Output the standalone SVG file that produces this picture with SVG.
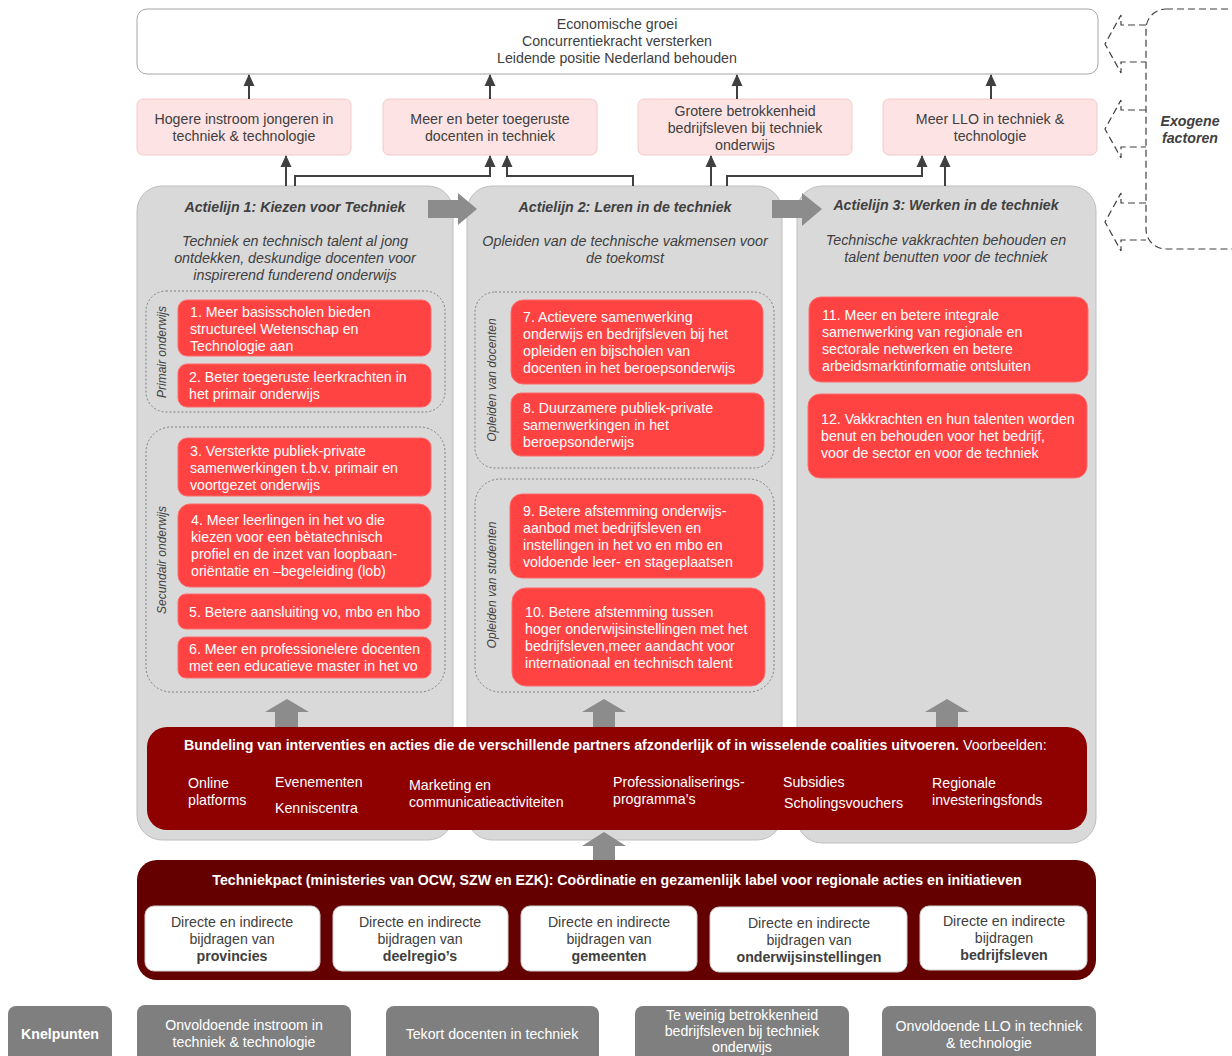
<svg xmlns="http://www.w3.org/2000/svg" width="1232" height="1056" viewBox="0 0 1232 1056">
<defs>
<style>
text{font-family:"Liberation Sans",Arial,sans-serif;}
.t{font-size:14.2px;fill:#404040;}
.c{text-anchor:middle;}
.w{font-size:14.2px;fill:#ffffff;}
.h{font-size:14.2px;font-weight:bold;font-style:italic;fill:#404040;text-anchor:middle;}
.s{font-size:14.3px;font-style:italic;fill:#404040;text-anchor:middle;}
.r{font-size:12px;font-style:italic;fill:#404040;text-anchor:middle;}
.pink{fill:#fde3e3;stroke:#f3caca;stroke-width:1;}
.al{fill:#d9d9d9;stroke:#bfbfbf;stroke-width:1;}
.red{fill:#ff4343;stroke:#ff6a6a;stroke-width:1;}
.grp{fill:none;stroke:#808080;stroke-width:1;stroke-dasharray:2 2;}
.wb{fill:#ffffff;stroke:#d0d0d0;stroke-width:1;}
.kn{fill:#7f7f7f;}
.con{fill:none;stroke:#404040;stroke-width:2;}
.ga{fill:#8c8c8c;}
.ex{fill:none;stroke:#404040;stroke-width:1.2;stroke-dasharray:7 4;}
</style>
<marker id="ah" markerWidth="12" markerHeight="12" refX="11" refY="6" orient="auto" markerUnits="userSpaceOnUse" viewBox="0 0 12 12">
<path d="M0,0.5 L12,6 L0,11.5 Z" fill="#404040"/>
</marker>
</defs>

<!-- Top goal box -->
<g id="goal">
<rect x="137" y="9" width="961" height="65" rx="10" fill="#ffffff" stroke="#a6a6a6"/>
<text class="t c" x="617" y="29">Economische groei</text>
<text class="t c" x="617" y="46">Concurrentiekracht versterken</text>
<text class="t c" x="617" y="63">Leidende positie Nederland behouden</text>
</g>

<!-- Exogene factoren -->
<g id="exogeen">
<rect class="ex" x="1146" y="9" width="110" height="240" rx="20"/>
<text x="1190" y="126" style="font-size:14.2px;font-weight:bold;font-style:italic;fill:#404040;text-anchor:middle">Exogene</text>
<text x="1190" y="143" style="font-size:14.2px;font-weight:bold;font-style:italic;fill:#404040;text-anchor:middle">factoren</text>
<path class="ex" d="M1146,25 H1121 V15 L1105,44 L1121,73 V62 H1146"/>
<path class="ex" d="M1146,110 H1121 V100 L1105,129 L1121,158 V147 H1146"/>
<path class="ex" d="M1146,203 H1121 V193 L1105,222 L1121,251 V240 H1146"/>
</g>

<!-- Pink outcome boxes -->
<g id="uitkomst1">
<rect class="pink" x="137" y="99" width="214" height="56" rx="6"/>
<text class="t c" x="244" y="124">Hogere instroom jongeren in</text>
<text class="t c" x="244" y="141">techniek &amp; technologie</text>
</g>
<g id="uitkomst2">
<rect class="pink" x="383" y="99" width="214" height="56" rx="6"/>
<text class="t c" x="490" y="124">Meer en beter toegeruste</text>
<text class="t c" x="490" y="141">docenten in techniek</text>
</g>
<g id="uitkomst3">
<rect class="pink" x="638" y="99" width="214" height="56" rx="6"/>
<text class="t c" x="745" y="116">Grotere betrokkenheid</text>
<text class="t c" x="745" y="133">bedrijfsleven bij techniek</text>
<text class="t c" x="745" y="150">onderwijs</text>
</g>
<g id="uitkomst4">
<rect class="pink" x="883" y="99" width="214" height="56" rx="6"/>
<text class="t c" x="990" y="124">Meer LLO in techniek &amp;</text>
<text class="t c" x="990" y="141">technologie</text>
</g>

<!-- Actielijn 1 -->
<g id="actielijn1">
<rect class="al" x="137" y="186" width="316" height="654" rx="25"/>
<text class="h" x="295" y="212">Actielijn  1: Kiezen voor Techniek</text>
<text class="s" x="295" y="246">Techniek en technisch talent al jong</text>
<text class="s" x="295" y="263">ontdekken, deskundige docenten voor</text>
<text class="s" x="295" y="280">inspirerend funderend onderwijs</text>
</g>
<!-- Actielijn 2 -->
<g id="actielijn2">
<rect class="al" x="467" y="186" width="315" height="654" rx="25"/>
<text class="h" x="625" y="212">Actielijn  2: Leren in de techniek</text>
<text class="s" x="625" y="246">Opleiden van de technische vakmensen voor</text>
<text class="s" x="625" y="263">de toekomst</text>
</g>
<!-- Actielijn 3 -->
<g id="actielijn3">
<rect class="al" x="797" y="186" width="299" height="657" rx="25"/>
<text class="h" x="946" y="210">Actielijn  3: Werken in de techniek</text>
<text class="s" x="946" y="245">Technische vakkrachten behouden en</text>
<text class="s" x="946" y="262">talent benutten voor de techniek</text>
</g>

<!-- Big gray arrows between actielijnen -->
<g id="pijlen-actielijn">
<path class="ga" d="M428,200 H458 V193 L477,209 L458,225 V218 H428 Z"/>
<path class="ga" d="M772,200 H802 V193 L822,209 L802,226 V218 H772 Z"/>
</g>

<!-- Groups -->
<g id="primair">
<rect class="grp" x="146" y="291" width="299" height="121" rx="20"/>
<text class="r" transform="translate(166,352) rotate(-90)">Primair onderwijs</text>
</g>
<g id="secundair">
<rect class="grp" x="146" y="427" width="299" height="265" rx="25"/>
<text class="r" transform="translate(166,560) rotate(-90)">Secundair onderwijs</text>
</g>
<g id="docenten">
<rect class="grp" x="475" y="292" width="299" height="176" rx="20"/>
<text class="r" transform="translate(496,380) rotate(-90)">Opleiden van docenten</text>
</g>
<g id="studenten">
<rect class="grp" x="475" y="479" width="299" height="213" rx="25"/>
<text class="r" transform="translate(496,585) rotate(-90)">Opleiden van studenten</text>
</g>

<!-- Red items -->
<g id="item1">
<rect class="red" x="178" y="300" width="253" height="56" rx="9"/>
<text class="w" x="190" y="317">1. Meer basisscholen bieden</text>
<text class="w" x="190" y="334">structureel Wetenschap en</text>
<text class="w" x="190" y="351">Technologie aan</text>
</g>
<g id="item2">
<rect class="red" x="178" y="364" width="253" height="43" rx="9"/>
<text class="w" x="189" y="382">2. Beter toegeruste leerkrachten in</text>
<text class="w" x="189" y="399">het primair onderwijs</text>
</g>
<g id="item3">
<rect class="red" x="178" y="438" width="253" height="58" rx="9"/>
<text class="w" x="190" y="456">3. Versterkte publiek-private</text>
<text class="w" x="190" y="473">samenwerkingen t.b.v. primair en</text>
<text class="w" x="190" y="490">voortgezet onderwijs</text>
</g>
<g id="item4">
<rect class="red" x="178" y="504" width="253" height="83" rx="12"/>
<text class="w" x="191" y="525">4. Meer leerlingen in het vo die</text>
<text class="w" x="191" y="542">kiezen voor een bètatechnisch</text>
<text class="w" x="191" y="559">profiel en de inzet van loopbaan-</text>
<text class="w" x="191" y="576">oriëntatie en –begeleiding (lob)</text>
</g>
<g id="item5">
<rect class="red" x="178" y="594" width="253" height="35" rx="8"/>
<text class="w" x="189" y="617">5. Betere aansluiting vo, mbo en hbo</text>
</g>
<g id="item6">
<rect class="red" x="178" y="637" width="253" height="41" rx="8"/>
<text class="w" x="189" y="654">6. Meer en professionelere docenten</text>
<text class="w" x="189" y="671">met een educatieve master in het vo</text>
</g>
<g id="item7">
<rect class="red" x="511" y="300" width="252" height="84" rx="12"/>
<text class="w" x="523" y="322">7. Actievere samenwerking</text>
<text class="w" x="523" y="339">onderwijs en bedrijfsleven bij het</text>
<text class="w" x="523" y="356">opleiden en bijscholen van</text>
<text class="w" x="523" y="373">docenten in het beroepsonderwijs</text>
</g>
<g id="item8">
<rect class="red" x="511" y="393" width="253" height="63" rx="10"/>
<text class="w" x="523" y="413">8. Duurzamere publiek-private</text>
<text class="w" x="523" y="430">samenwerkingen in het</text>
<text class="w" x="523" y="447">beroepsonderwijs</text>
</g>
<g id="item9">
<rect class="red" x="510" y="494" width="253" height="84" rx="12"/>
<text class="w" x="523" y="516">9. Betere afstemming onderwijs-</text>
<text class="w" x="523" y="533">aanbod met bedrijfsleven en</text>
<text class="w" x="523" y="550">instellingen in het vo en mbo en</text>
<text class="w" x="523" y="567">voldoende leer- en stageplaatsen</text>
</g>
<g id="item10">
<rect class="red" x="512" y="588" width="253" height="98" rx="14"/>
<text class="w" x="525" y="617">10. Betere afstemming tussen</text>
<text class="w" x="525" y="634">hoger onderwijsinstellingen met het</text>
<text class="w" x="525" y="651">bedrijfsleven,meer aandacht voor</text>
<text class="w" x="525" y="668">internationaal en technisch talent</text>
</g>
<g id="item11">
<rect class="red" x="809" y="297" width="279" height="85" rx="12"/>
<text class="w" x="822" y="320">11. Meer en betere integrale</text>
<text class="w" x="822" y="337">samenwerking van regionale en</text>
<text class="w" x="822" y="354">sectorale netwerken en betere</text>
<text class="w" x="822" y="371">arbeidsmarktinformatie ontsluiten</text>
</g>
<g id="item12">
<rect class="red" x="808" y="394" width="279" height="84" rx="12"/>
<text class="w" x="821" y="424">12. Vakkrachten en hun talenten worden</text>
<text class="w" x="821" y="441">benut en behouden voor het bedrijf,</text>
<text class="w" x="821" y="458">voor de sector en voor de techniek</text>
</g>

<!-- Small up arrows -->
<g id="pijlen-omhoog">
<path class="ga" d="M275,727 V712 H265 L287,699 L309,712 H298 V727 Z"/>
<path class="ga" d="M593,727 V712 H582 L604,699 L626,712 H615 V727 Z"/>
<path class="ga" d="M936,727 V712 H925 L947,699 L969,712 H958 V727 Z"/>
<path class="ga" d="M593,860 V846 H582 L604,832 L626,846 H615 V860 Z"/>
</g>

<!-- Bundeling -->
<g id="bundeling">
<rect x="147" y="727" width="940" height="103" rx="20" fill="#8f0000"/>
<text x="184" y="750" style="font-size:14.2px;fill:#ffffff"><tspan font-weight="bold">Bundeling van interventies en acties die de verschillende partners afzonderlijk of in wisselende coalities uitvoeren.</tspan> Voorbeelden:</text>
<text class="w" x="188" y="788">Online</text>
<text class="w" x="188" y="805">platforms</text>
<text class="w" x="275" y="787">Evenementen</text>
<text class="w" x="275" y="813">Kenniscentra</text>
<text class="w" x="409" y="790">Marketing en</text>
<text class="w" x="409" y="807">communicatieactiviteiten</text>
<text class="w" x="613" y="787">Professionaliserings-</text>
<text class="w" x="613" y="804">programma’s</text>
<text class="w" x="783" y="787">Subsidies</text>
<text class="w" x="784" y="808">Scholingsvouchers</text>
<text class="w" x="932" y="788">Regionale</text>
<text class="w" x="932" y="805">investeringsfonds</text>
</g>

<!-- Techniekpact -->
<g id="techniekpact">
<rect x="137" y="860" width="959" height="120" rx="20" fill="#640000"/>
<text x="617" y="885" style="font-size:14.2px;font-weight:bold;fill:#ffffff;text-anchor:middle">Techniekpact (ministeries van OCW, SZW en EZK): Coördinatie en gezamenlijk label voor regionale acties en initiatieven</text>
</g>
<g id="bijdrage1">
<rect class="wb" x="145" y="906" width="175" height="65" rx="9"/>
<text class="t c" x="232" y="927">Directe en indirecte</text>
<text class="t c" x="232" y="944">bijdragen van</text>
<text class="t c" x="232" y="961" font-weight="bold">provincies</text>
</g>
<g id="bijdrage2">
<rect class="wb" x="333" y="906" width="175" height="65" rx="9"/>
<text class="t c" x="420" y="927">Directe en indirecte</text>
<text class="t c" x="420" y="944">bijdragen van</text>
<text class="t c" x="420" y="961" font-weight="bold">deelregio’s</text>
</g>
<g id="bijdrage3">
<rect class="wb" x="521" y="906" width="176" height="65" rx="9"/>
<text class="t c" x="609" y="927">Directe en indirecte</text>
<text class="t c" x="609" y="944">bijdragen van</text>
<text class="t c" x="609" y="961" font-weight="bold">gemeenten</text>
</g>
<g id="bijdrage4">
<rect class="wb" x="710" y="907" width="197" height="65" rx="9"/>
<text class="t c" x="809" y="928">Directe en indirecte</text>
<text class="t c" x="809" y="945">bijdragen van</text>
<text class="t c" x="809" y="962" font-weight="bold">onderwijsinstellingen</text>
</g>
<g id="bijdrage5">
<rect class="wb" x="920" y="906" width="167" height="64" rx="9"/>
<text class="t c" x="1004" y="926">Directe en indirecte</text>
<text class="t c" x="1004" y="943">bijdragen</text>
<text class="t c" x="1004" y="960" font-weight="bold">bedrijfsleven</text>
</g>

<!-- Knelpunten -->
<g id="knelpunten">
<rect class="kn" x="8" y="1006" width="104" height="60" rx="8"/>
<text x="60" y="1039" style="font-size:14.2px;font-weight:bold;fill:#ffffff;text-anchor:middle">Knelpunten</text>
</g>
<g id="knelpunt1">
<rect class="kn" x="137" y="1005" width="214" height="61" rx="8"/>
<text class="w c" x="244" y="1030">Onvoldoende instroom in</text>
<text class="w c" x="244" y="1047">techniek &amp; technologie</text>
</g>
<g id="knelpunt2">
<rect class="kn" x="386" y="1006" width="213" height="60" rx="8"/>
<text class="w c" x="492" y="1039">Tekort docenten in techniek</text>
</g>
<g id="knelpunt3">
<rect class="kn" x="635" y="1006" width="214" height="60" rx="8"/>
<text class="w c" x="742" y="1020">Te weinig betrokkenheid</text>
<text class="w c" x="742" y="1036">bedrijfsleven bij techniek</text>
<text class="w c" x="742" y="1052">onderwijs</text>
</g>
<g id="knelpunt4">
<rect class="kn" x="882" y="1006" width="214" height="60" rx="8"/>
<text class="w c" x="989" y="1031">Onvoldoende LLO in techniek</text>
<text class="w c" x="989" y="1048">&amp; technologie</text>
</g>

<!-- Connectors -->
<g id="connectors">
<path class="con" d="M249,99 V75" marker-end="url(#ah)"/>
<path class="con" d="M490,99 V75" marker-end="url(#ah)"/>
<path class="con" d="M737,99 V75" marker-end="url(#ah)"/>
<path class="con" d="M991,99 V75" marker-end="url(#ah)"/>
<path class="con" d="M286,186 V156" marker-end="url(#ah)"/>
<path class="con" d="M295,186 V176 H490 V156" marker-end="url(#ah)"/>
<path class="con" d="M633,186 V176 H507 V156" marker-end="url(#ah)"/>
<path class="con" d="M711,186 V156" marker-end="url(#ah)"/>
<path class="con" d="M727,186 V176 H922 V156" marker-end="url(#ah)"/>
<path class="con" d="M945,186 V156" marker-end="url(#ah)"/>
</g>
</svg>
